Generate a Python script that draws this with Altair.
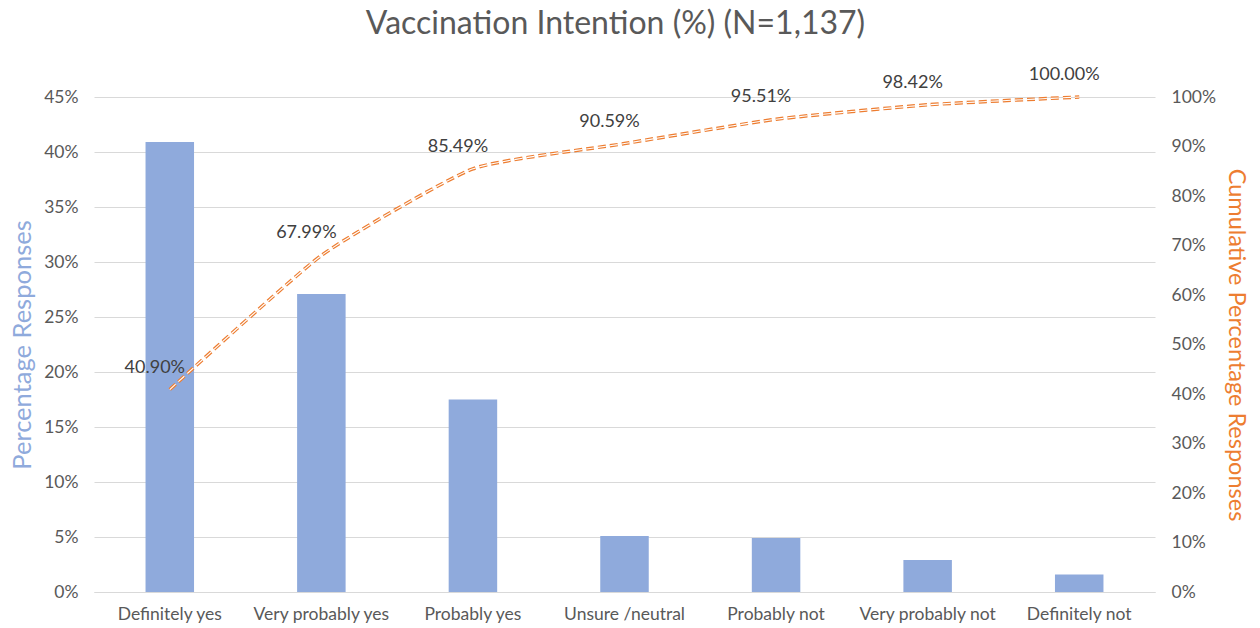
import altair as alt
import pandas as pd

categories = ["Definitely yes", "Very probably yes", "Probably yes", "Unsure /neutral",
              "Probably not", "Very probably not", "Definitely not"]
percent = [40.90, 27.09, 17.50, 5.10, 4.92, 2.91, 1.58]
cumulative = [40.90, 67.99, 85.49, 90.59, 95.51, 98.42, 100.00]

df = pd.DataFrame({"cat": categories, "pct": percent, "cum": cumulative})

FONT = "Lato"
GRAY = "#595959"
BLUE = "#8FAADC"
ORANGE = "#ED7D31"

x = alt.X("cat:N", sort=categories, title=None,
          scale=alt.Scale(paddingInner=0.68, paddingOuter=0.34),
          axis=alt.Axis(labelAngle=0, labelFontSize=17.5, labelColor=GRAY, labelFont=FONT,
                        ticks=False, domainColor="#D9D9D9", labelPadding=13, grid=False))

bars = alt.Chart(df).mark_bar(color=BLUE).encode(
    x=x,
    y=alt.Y("pct:Q", scale=alt.Scale(domain=[0, 45], nice=False),
            axis=alt.Axis(title="Percentage Responses", values=list(range(0, 50, 5)),
                          labelExpr="datum.value + '%'", labelFontSize=17.5, labelColor=GRAY,
                          labelFont=FONT, titleFont=FONT, titleFontSize=25.5, titleColor=BLUE,
                          titleFontWeight="normal", ticks=False, domain=False,
                          gridColor="#D9D9D9", labelPadding=16, titlePadding=8)),
)

ycum = alt.Y("cum:Q", scale=alt.Scale(domain=[0, 100], nice=False),
             axis=alt.Axis(title="Cumulative Percentage Responses", orient="right",
                           values=list(range(0, 110, 10)), labelExpr="datum.value + '%'",
                           labelFontSize=17.5, labelColor=GRAY, labelFont=FONT, titleFont=FONT,
                           titleFontSize=23.5, titleColor=ORANGE, titleFontWeight="normal",
                           ticks=False, domain=False, grid=False, labelPadding=16,
                           titlePadding=8))

base = alt.Chart(df).encode(x=alt.X("cat:N", sort=categories), y=ycum)

line_outer = base.mark_line(color=ORANGE, strokeWidth=3.5, strokeDash=[8, 4],
                            interpolate="cardinal", tension=0.5)
line_inner = base.mark_line(color="white", strokeWidth=1.1, strokeDash=[8, 4],
                            interpolate="cardinal", tension=0.5)
labels = base.mark_text(font=FONT, fontSize=18, color="#404040", dx=-15, dy=-22).encode(
    text="label:N").transform_calculate(label="format(datum.cum, '.2f') + '%'")

cum_layer = alt.layer(line_outer, line_inner, labels)

chart = alt.layer(bars, cum_layer).resolve_scale(y="independent").properties(
    width=1061, height=495,
    title=alt.TitleParams("Vaccination Intention (%) (N=1,137)", font=FONT, fontSize=32,
                          color=GRAY, fontWeight="normal", offset=25, anchor="middle", dx=-9),
    autosize=alt.AutoSizeParams(type="none"),
    padding={"left": 86, "top": 89, "right": 95, "bottom": 36},
    background="white",
).configure_view(stroke=None)

chart.save("out.html", embed_options={"renderer": "svg", "actions": False})
